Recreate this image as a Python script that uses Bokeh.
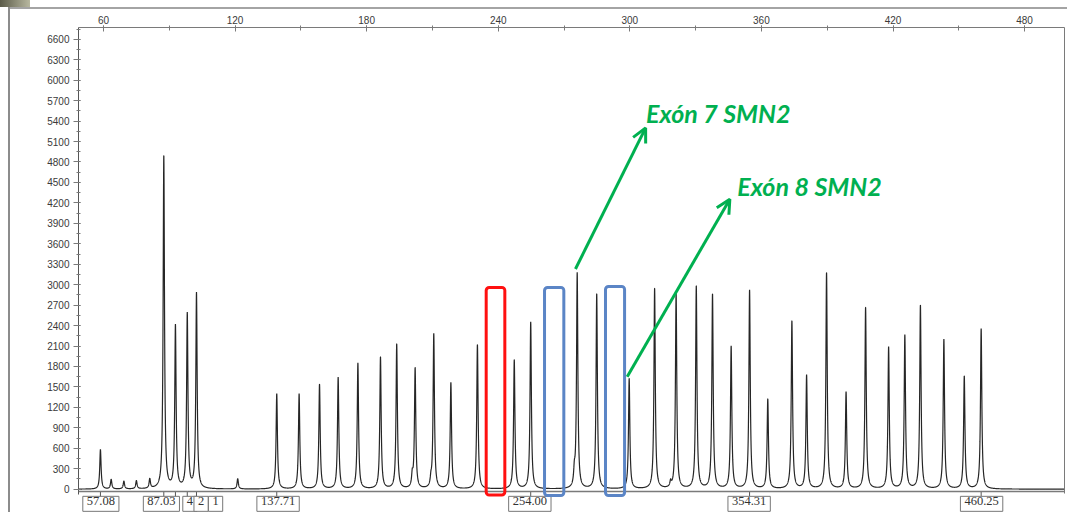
import numpy as np
from bokeh.plotting import figure
from bokeh.models import (LinearAxis, SingleIntervalTicker, FixedTicker, Range1d,
                          Label, Arrow, OpenHead, BoxAnnotation, ColumnDataSource,
                          Span, InlineStyleSheet)
from bokeh.embed import file_html
from bokeh.resources import INLINE

# ---- data ----
peak_size = [58.6, 63.5, 69.3, 75.0, 81.1, 87.5, 92.8, 98.2, 102.4, 121.2,
             139.0, 149.2, 158.5, 167.0, 176.0, 186.3, 193.7, 200.8, 202.1, 209.3,
             210.6, 218.4, 230.5, 247.3, 254.8, 274.7, 276.0, 284.9, 299.7, 311.3,
             318.6, 321.1, 330.3, 337.7, 346.2, 354.6, 362.9, 373.9, 380.6, 389.7,
             398.6, 407.5, 418.0, 425.4, 432.5, 443.2, 452.5, 460.2]
peak_rfu = [580, 140, 115, 120, 140, 4890, 2385, 2560, 2865, 150,
            1400, 1395, 1535, 1635, 1845, 1935, 2125, 170, 1765, 100,
            2270, 1560, 2120, 1895, 2450, 200, 3160, 2865, 1620, 2945,
            80, 2865, 2975, 2855, 2090, 2915, 1315, 2465, 1665, 3175,
            1420, 2665, 2080, 2255, 2695, 2195, 1655, 2350]

sized_tick_pos = [58.6, 87.5, 92.8, 98.2, 102.4, 139.0, 254.8, 354.6, 460.2]
sized_label_text = ["57.08", "87.03", "4", "2", "1", "137.71", "254.00", "354.31", "460.25"]
sized_label_pos = [58.8, 86.4, 99.4, 104.5, 111.1, 139.6, 254.4, 354.4, 460.4]

exon_labels = ["Exón 7 SMN2", "Exón 8 SMN2"]
exon_arrow_start = [(275.2, 3230), (298.8, 1650)]
exon_arrow_end = [(307.2, 5300), (345.6, 4255)]
exon_text_pos = [(307.4, 5520), (349.0, 4450)]

red_box = (234.5, 243.0, 2960)
blue_boxes = [(261.1, 269.9, 2960), (288.9, 297.6, 2975)]

X_MIN, X_MAX = 48.6, 498.2
Y_MIN, Y_MAX = -342, 6773
Y_AXIS_FLOOR = -34        # level of the horizontal axis line
BOX_FLOOR = -85
LABEL_LEVEL = -215
TICK_LOW = -115

# ---- trace built from the peak table ----
gamma = 0.36
xs = np.arange(X_MIN, X_MAX, 0.04)
ys = np.zeros_like(xs)
for c, h in zip(peak_size, peak_rfu):
    ys += h / (1.0 + ((xs - c) / gamma) ** 2)
src = ColumnDataSource(data=dict(x=xs, y=ys))

p = figure(width=1067, height=512, output_backend="svg", toolbar_location=None,
           x_range=Range1d(X_MIN, X_MAX), y_range=Range1d(Y_MIN, Y_MAX),
           x_axis_location=None, y_axis_location=None,
           min_border_left=78, min_border_right=3, min_border_top=27, min_border_bottom=0)
p.grid.visible = False
p.outline_line_color = None
p.background_fill_color = "white"
p.border_fill_color = None
p.stylesheets = [InlineStyleSheet(css="""
:host {
  background-color: #ffffff;
  background-image: linear-gradient(#8c8c8c, #8c8c8c), linear-gradient(#a4a4a4, #a4a4a4),
                    linear-gradient(90deg, #5a5a48, #b8b8a0);
  background-position: 8px 7px, 8px 7px, 0px 0px;
  background-size: 2px 100%, 100% 2px, 30px 7px;
  background-repeat: no-repeat;
}
""")]

AX_COL = "#7a7a7a"
LBL_COL = "#3a3a3a"

# left axis
ly = LinearAxis(ticker=SingleIntervalTicker(interval=300, num_minor_ticks=2),
                bounds=(BOX_FLOOR + 5, Y_MAX))
ly.axis_line_color = "#555555"
ly.major_tick_line_color = AX_COL
ly.minor_tick_line_color = AX_COL
ly.major_tick_out = 5
ly.major_tick_in = 2
ly.minor_tick_out = 2
ly.minor_tick_in = 2
ly.major_label_standoff = 4
ly.major_label_text_font = "Liberation Sans"
ly.major_label_text_font_size = "10px"
ly.major_label_text_color = LBL_COL
p.add_layout(ly, "left")

# right frame edge
ry = LinearAxis(ticker=FixedTicker(ticks=[], minor_ticks=[]), bounds=(BOX_FLOOR + 20, Y_MAX))
ry.axis_line_color = AX_COL
ry.major_tick_out = 0
ry.major_tick_in = 0
ry.minor_tick_out = 0
ry.minor_tick_in = 0
ry.major_label_standoff = 0
ry.major_label_text_font_size = "1px"
ry.major_label_text_alpha = 0
p.add_layout(ry, "right")

# top axis
tx = LinearAxis(ticker=SingleIntervalTicker(interval=60, num_minor_ticks=2))
tx.axis_line_color = AX_COL
tx.major_tick_line_color = AX_COL
tx.minor_tick_line_color = AX_COL
tx.major_tick_out = 2
tx.major_tick_in = 4
tx.minor_tick_out = 2
tx.minor_tick_in = 3
tx.major_label_standoff = 2
tx.major_label_text_font = "Liberation Sans"
tx.major_label_text_font_size = "10px"
tx.major_label_text_color = LBL_COL
p.add_layout(tx, "above")

# bottom line and sized-peak ticks
p.add_layout(Span(location=Y_AXIS_FLOOR, dimension="width", line_color=AX_COL, line_width=1.5))
p.segment(x0=sized_tick_pos, y0=[Y_AXIS_FLOOR] * len(sized_tick_pos),
          x1=sized_tick_pos, y1=[TICK_LOW] * len(sized_tick_pos),
          line_color="#555555", line_width=1)

p.line("x", "y", source=src, line_color="#262626", line_width=1.2)

for txt, pos in zip(sized_label_text, sized_label_pos):
    p.add_layout(Label(x=pos, y=LABEL_LEVEL, text=txt, text_font="Liberation Serif",
                       text_font_size="12.5px", text_color="#333333",
                       text_align="center", text_baseline="middle",
                       border_line_color="#777777", border_line_width=1,
                       background_fill_color="white",
                       padding=dict(left=4, right=4, top=1, bottom=6)))

# highlight boxes
p.add_layout(BoxAnnotation(left=red_box[0], right=red_box[1], top=red_box[2], bottom=BOX_FLOOR,
                           fill_alpha=0, line_color="#ff1010", line_alpha=1,
                           line_width=3, border_radius=3))
for l, r, t in blue_boxes:
    p.add_layout(BoxAnnotation(left=l, right=r, top=t, bottom=BOX_FLOOR - 8,
                               fill_alpha=0, line_color="#5b85c6", line_alpha=1,
                               line_width=3, border_radius=3))

GREEN = "#00b050"
for (x0, y0), (x1, y1) in zip(exon_arrow_start, exon_arrow_end):
    p.add_layout(Arrow(x_start=x0, y_start=y0, x_end=x1, y_end=y1,
                       line_color=GREEN, line_width=3,
                       end=OpenHead(line_color=GREEN, line_width=3, size=14)))
for txt, (x, y) in zip(exon_labels, exon_text_pos):
    p.add_layout(Label(x=x, y=y, text=txt, text_font="Lato", text_font_style="bold italic",
                       text_font_size="25px", text_color=GREEN, text_baseline="middle"))

open("out.html", "w").write(file_html(p, INLINE))
